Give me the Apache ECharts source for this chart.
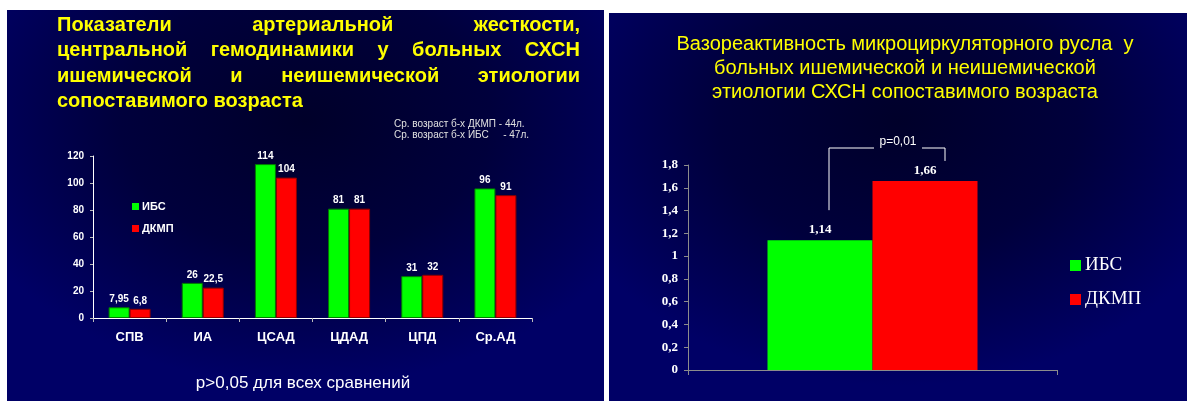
<!DOCTYPE html>
<html>
<head>
<meta charset="utf-8">
<script src="https://cdn.jsdelivr.net/npm/echarts@6/dist/echarts.min.js"></script>
<style>
  html, body { margin: 0; padding: 0; background: #ffffff; }
  body { width: 1187px; height: 401px; position: relative; overflow: hidden; }
  .slide {
    position: absolute;
    background: radial-gradient(ellipse 62% 68% at 50% 28%, #00002a 0%, #00003c 50%, #000066 100%);
  }
  #left { left: 7px; top: 10px; width: 597px; height: 391px; }
  #right { left: 609px; top: 13px; width: 578px; height: 388px; }
</style>
</head>
<body>
<div class="slide" id="left"></div>
<div class="slide" id="right"></div>
<script>
// left chart data
var categories = ['СПВ', 'ИА', 'ЦСАД', 'ЦДАД', 'ЦПД', 'Ср.АД'];
var ibsValues = [7.95, 26, 114, 81, 31, 96];
var dkmpValues = [6.8, 22.5, 104, 81, 32, 91];
var leftYMax = 120;
var leftYStep = 20;

// right chart data
var vasoCategories = [''];
var vasoIbs = [1.14];
var vasoDkmp = [1.66];
var rightYMax = 1.8;
var rightYStep = 0.2;

var seriesNames = ['ИБС', 'ДКМП'];
var GREEN = '#00ff00';
var RED = '#ff0000';
var YELLOW = '#ffff00';

function comma(v) {
  return String(Math.round(v * 100) / 100).replace('.', ',');
}

// spread words over a line (the slide title is justified)
var measureCtx = document.createElement('canvas').getContext('2d');
function justifyLine(words, y, left, right, font, color) {
  measureCtx.font = font;
  var widths = words.map(function (w) { return measureCtx.measureText(w).width; });
  var total = widths.reduce(function (a, b) { return a + b; }, 0);
  var gap = words.length > 1 ? (right - left - total) / (words.length - 1) : 0;
  var x = left;
  var out = [];
  words.forEach(function (w, i) {
    out.push({
      type: 'text', x: x, y: y,
      style: { text: w, font: font, fill: color, textVerticalAlign: 'middle' }
    });
    x += widths[i] + gap;
  });
  return out;
}

function initLeft() {
  var myChart = echarts.init(document.getElementById('left'));
  var titleFont = 'bold 20px "Liberation Sans"';
  var g = [];
  g = g.concat(justifyLine(['Показатели', 'артериальной', 'жесткости,'], 15, 50, 573, titleFont, YELLOW));
  g = g.concat(justifyLine(['центральной', 'гемодинамики', 'у', 'больных', 'СХСН'], 40, 50, 573, titleFont, YELLOW));
  g = g.concat(justifyLine(['ишемической', 'и', 'неишемической', 'этиологии'], 66, 50, 573, titleFont, YELLOW));
  g.push({ type: 'text', x: 50, y: 91, style: { text: 'сопоставимого возраста', font: titleFont, fill: YELLOW, textVerticalAlign: 'middle' } });

  var noteFont = '10px "Liberation Sans"';
  g.push({ type: 'text', x: 387, y: 114, style: { text: 'Ср. возраст б-х ДКМП - 44л.', font: noteFont, fill: '#e0e0e0', textVerticalAlign: 'middle' } });
  g.push({ type: 'text', x: 387, y: 125, style: { text: 'Ср. возраст б-х ИБС', font: noteFont, fill: '#e0e0e0', textVerticalAlign: 'middle' } });
  g.push({ type: 'text', x: 522, y: 125, style: { text: '- 47л.', font: noteFont, fill: '#e0e0e0', textAlign: 'right', textVerticalAlign: 'middle' } });

  g.push({ type: 'text', x: 296, y: 373, style: { text: 'p>0,05 для всех сравнений', font: '17px "Liberation Sans"', fill: '#ffffff', textAlign: 'center', textVerticalAlign: 'middle' } });

  var labelStyle = {
    show: true, position: 'top', distance: 3,
    color: '#ffffff', fontWeight: 'bold', fontSize: 10, fontFamily: 'Liberation Sans',
    formatter: function (p) { return comma(p.value); }
  };

  var option = {
    backgroundColor: 'transparent',
    animation: false,
    graphic: g,
    legend: {
      orient: 'vertical',
      left: 120, top: 186,
      itemWidth: 7, itemHeight: 7, itemGap: 11,
      icon: 'rect',
      itemStyle: { borderWidth: 0 },
      data: seriesNames,
      textStyle: { color: '#ffffff', fontWeight: 'bold', fontSize: 11, fontFamily: 'Liberation Sans', padding: [0, 0, 0, -2] }
    },
    grid: { left: 86, top: 146, width: 439, height: 162 },
    xAxis: {
      type: 'category',
      data: categories,
      axisLine: { lineStyle: { color: '#ffffff', width: 1 } },
      axisTick: { show: true, length: 4, lineStyle: { color: '#bbbbbb' } },
      axisLabel: { color: '#ffffff', fontWeight: 'bold', fontSize: 13, fontFamily: 'Liberation Sans', margin: 13 }
    },
    yAxis: {
      type: 'value',
      min: 0, max: leftYMax, interval: leftYStep,
      splitLine: { show: false },
      axisLine: { show: true, lineStyle: { color: '#ffffff', width: 1 } },
      axisTick: { show: true, length: 3, lineStyle: { color: '#bbbbbb' } },
      axisLabel: { color: '#ffffff', fontWeight: 'bold', fontSize: 10, fontFamily: 'Liberation Sans', margin: 9 }
    },
    series: [
      {
        name: seriesNames[0], type: 'bar', data: ibsValues,
        barWidth: 21, barGap: '0%',
        itemStyle: { color: GREEN, borderColor: '#007a00', borderWidth: 1 },
        label: labelStyle
      },
      {
        name: seriesNames[1], type: 'bar', data: dkmpValues,
        barWidth: 21,
        itemStyle: { color: RED, borderColor: '#8a0000', borderWidth: 1 },
        label: labelStyle
      }
    ]
  };
  option && myChart.setOption(option);
}

function initRight() {
  var myChart = echarts.init(document.getElementById('right'));
  var labelStyle = {
    show: true, position: 'top', distance: 4,
    color: '#ffffff', fontWeight: 'bold', fontSize: 13, fontFamily: 'Liberation Serif',
    formatter: function (p) { return comma(p.value); }
  };
  var option = {
    backgroundColor: 'transparent',
    animation: false,
    legend: {
      orient: 'vertical',
      left: 456, top: 238,
      itemWidth: 11, itemHeight: 11, itemGap: 15,
      icon: 'rect',
      data: seriesNames,
      textStyle: {
        color: '#ffffff', fontSize: 19, fontFamily: 'Liberation Serif', padding: [0, 0, 0, -1],
        textShadowColor: '#777777', textShadowOffsetX: 1, textShadowOffsetY: 1, textShadowBlur: 0
      }
    },
    grid: { left: 79, top: 152, width: 369, height: 205 },
    xAxis: {
      type: 'category',
      data: vasoCategories,
      axisLine: { lineStyle: { color: '#8c8c8c', width: 1 } },
      axisTick: { show: true, length: 5, lineStyle: { color: '#8c8c8c' } },
      axisLabel: { show: false }
    },
    yAxis: {
      type: 'value',
      min: 0, max: rightYMax, interval: rightYStep,
      splitLine: { show: false },
      axisLine: { show: true, lineStyle: { color: '#8c8c8c', width: 1 } },
      axisTick: { show: true, length: 4, lineStyle: { color: '#8c8c8c' } },
      axisLabel: {
        color: '#ffffff', fontWeight: 'bold', fontSize: 13, fontFamily: 'Liberation Serif', margin: 10,
        formatter: function (v) { return String(Math.round(v * 10) / 10).replace('.', ','); }
      }
    },
    series: [
      {
        name: seriesNames[0], type: 'bar', data: vasoIbs,
        barWidth: 105, barGap: '0%',
        itemStyle: { color: GREEN },
        label: labelStyle
      },
      {
        name: seriesNames[1], type: 'bar', data: vasoDkmp,
        barWidth: 105,
        itemStyle: { color: RED },
        label: labelStyle
      }
    ]
  };
  option && myChart.setOption(option);

  // title and significance bracket above the two bars
  var topIbs = myChart.convertToPixel({ gridIndex: 0 }, [0, vasoIbs[0]])[1];
  var topDkmp = myChart.convertToPixel({ gridIndex: 0 }, [0, vasoDkmp[0]])[1];
  var lineY = 135;
  var lx = 220, rx = 336;
  var ls = { stroke: '#ffffff', lineWidth: 1 };
  myChart.setOption({
    graphic: [
      {
        type: 'text', x: 296, y: 19,
        style: {
          text: 'Вазореактивность микроциркуляторного русла  у\nбольных ишемической и неишемической\nэтиологии СХСН сопоставимого возраста',
          font: '20px "Liberation Sans"', lineHeight: 24, fill: YELLOW, textAlign: 'center'
        }
      },
      { type: 'line', shape: { x1: lx, y1: lineY, x2: lx, y2: topIbs - 30 }, style: ls },
      { type: 'line', shape: { x1: lx, y1: lineY, x2: 265, y2: lineY }, style: ls },
      { type: 'line', shape: { x1: 313, y1: lineY, x2: rx, y2: lineY }, style: ls },
      { type: 'line', shape: { x1: rx, y1: lineY, x2: rx, y2: topDkmp - 20 }, style: ls },
      { type: 'text', x: 289, y: 129, style: { text: 'p=0,01', font: '12px "Liberation Sans"', fill: '#ffffff', textAlign: 'center', textVerticalAlign: 'middle' } }
    ]
  });
}

initLeft();
initRight();
</script>
</body>
</html>
